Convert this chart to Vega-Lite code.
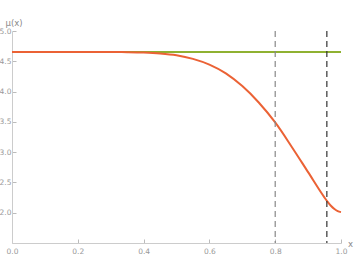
{
  "$schema": "https://vega.github.io/schema/vega-lite/v6.json",
  "width": 329,
  "height": 212,
  "autosize": "none",
  "padding": {"left": 12, "top": 31, "right": 13, "bottom": 31},
  "config": {
    "view": {"stroke": null},
    "axis": {
      "grid": false,
      "domainColor": "#cccccc",
      "tickColor": "#bbbbbb",
      "labelColor": "#999999",
      "labelFont": "DejaVu Sans",
      "labelFontSize": 7.5,
      "titleFont": "DejaVu Sans",
      "titleFontSize": 8.5,
      "titleFontWeight": "normal",
      "titleColor": "#888888"
    }
  },
  "datasets": {
    "lines": [
      {"s": "flat", "x": 0, "mu": 4.654}, {"s": "flat", "x": 1, "mu": 4.654},
      {"s": "curve", "x": 0.0, "mu": 4.654}, {"s": "curve", "x": 0.1, "mu": 4.654}, {"s": "curve", "x": 0.2, "mu": 4.654},
      {"s": "curve", "x": 0.3, "mu": 4.653}, {"s": "curve", "x": 0.35, "mu": 4.651}, {"s": "curve", "x": 0.4, "mu": 4.645},
      {"s": "curve", "x": 0.45, "mu": 4.63}, {"s": "curve", "x": 0.5, "mu": 4.6}, {"s": "curve", "x": 0.55, "mu": 4.54},
      {"s": "curve", "x": 0.6, "mu": 4.445}, {"s": "curve", "x": 0.65, "mu": 4.3}, {"s": "curve", "x": 0.7, "mu": 4.09},
      {"s": "curve", "x": 0.75, "mu": 3.82}, {"s": "curve", "x": 0.8, "mu": 3.49}, {"s": "curve", "x": 0.85, "mu": 3.09},
      {"s": "curve", "x": 0.9, "mu": 2.67}, {"s": "curve", "x": 0.95, "mu": 2.25}, {"s": "curve", "x": 0.96, "mu": 2.175},
      {"s": "curve", "x": 0.97, "mu": 2.11}, {"s": "curve", "x": 0.98, "mu": 2.06}, {"s": "curve", "x": 0.99, "mu": 2.025},
      {"s": "curve", "x": 1.0, "mu": 2.01}
    ],
    "cuts": [{"x": 0.8, "c": "a"}, {"x": 0.957, "c": "b"}]
  },
  "layer": [
    {
      "data": {"name": "lines"},
      "mark": {"type": "line", "strokeWidth": 2, "interpolate": "monotone"},
      "encoding": {
        "x": {
          "field": "x", "type": "quantitative",
          "scale": {"domain": [0, 1], "nice": false, "zero": false},
          "axis": {
            "values": [0, 0.2, 0.4, 0.6, 0.8, 1.0], "format": ".1f",
            "labelOverlap": false, "labelFlush": false,
            "tickSize": -4, "labelPadding": 8,
            "title": "x", "titleAngle": 0, "titleX": 338, "titleY": 0,
            "titleAlign": "center", "titleBaseline": "middle"
          }
        },
        "y": {
          "field": "mu", "type": "quantitative",
          "scale": {"domain": [1.5, 5.0], "nice": false, "zero": false},
          "axis": {
            "values": [2, 2.5, 3, 3.5, 4, 4.5, 5], "format": ".1f",
            "labelOverlap": false, "labelFlush": false,
            "tickSize": -4, "labelPadding": 5,
            "title": "μ(x)", "titleAngle": 0, "titleX": -7, "titleY": -4,
            "titleAlign": "left", "titleBaseline": "bottom"
          }
        },
        "color": {"field": "s", "type": "nominal", "scale": {"domain": ["flat", "curve"], "range": ["#8FB131", "#EB6235"]}, "legend": null},
        "order": {"field": "x", "type": "quantitative"}
      }
    },
    {
      "data": {"name": "cuts"},
      "mark": {"type": "rule", "strokeWidth": 1.2, "strokeDash": [6, 4]},
      "encoding": {
        "x": {
          "field": "x", "type": "quantitative",
          "scale": {"domain": [0, 1], "nice": false, "zero": false},
          "axis": {
            "values": [0, 0.2, 0.4, 0.6, 0.8, 1.0], "format": ".1f",
            "labelOverlap": false, "labelFlush": false,
            "tickSize": -4, "labelPadding": 8,
            "title": "x", "titleAngle": 0, "titleX": 338, "titleY": 0,
            "titleAlign": "center", "titleBaseline": "middle"
          }
        },
        "color": {"field": "c", "type": "nominal", "scale": {"domain": ["a", "b"], "range": ["#888888", "#333333"]}, "legend": null}
      }
    }
  ],
  "resolve": {"scale": {"color": "independent"}}
}
